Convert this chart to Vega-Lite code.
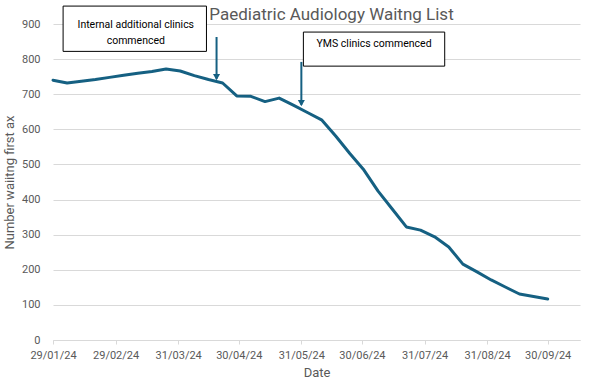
{
  "$schema": "https://vega.github.io/schema/vega-lite/v6.json",
  "width": 527,
  "height": 316,
  "autosize": {"type": "none"},
  "padding": {"left": 53, "top": 24, "right": 20, "bottom": 49},
  "background": "white",
  "title": {"text": "Paediatric Audiology Waitng List", "anchor": "middle", "dx": 15, "dy": 18, "offset": 0, "fontSize": 17, "font": "Roboto", "fontWeight": "normal", "color": "#595959"},
  "config": {"view": {"stroke": null}, "font": "Roboto"},
  "datasets": {
    "waiting": [
      {"date": "2024-01-29", "value": 740},
      {"date": "2024-02-05", "value": 732},
      {"date": "2024-02-12", "value": 737},
      {"date": "2024-02-19", "value": 742},
      {"date": "2024-02-26", "value": 748},
      {"date": "2024-03-04", "value": 754},
      {"date": "2024-03-11", "value": 760},
      {"date": "2024-03-18", "value": 765},
      {"date": "2024-03-25", "value": 772},
      {"date": "2024-04-01", "value": 766},
      {"date": "2024-04-08", "value": 753},
      {"date": "2024-04-15", "value": 742},
      {"date": "2024-04-22", "value": 732},
      {"date": "2024-04-29", "value": 695},
      {"date": "2024-05-06", "value": 694},
      {"date": "2024-05-13", "value": 679},
      {"date": "2024-05-20", "value": 689},
      {"date": "2024-05-27", "value": 669},
      {"date": "2024-06-03", "value": 648},
      {"date": "2024-06-10", "value": 627},
      {"date": "2024-06-17", "value": 581},
      {"date": "2024-06-24", "value": 531},
      {"date": "2024-07-01", "value": 484},
      {"date": "2024-07-08", "value": 424},
      {"date": "2024-07-15", "value": 373},
      {"date": "2024-07-22", "value": 322},
      {"date": "2024-07-29", "value": 313},
      {"date": "2024-08-05", "value": 294},
      {"date": "2024-08-12", "value": 265},
      {"date": "2024-08-19", "value": 216},
      {"date": "2024-08-26", "value": 194},
      {"date": "2024-09-02", "value": 171},
      {"date": "2024-09-09", "value": 151},
      {"date": "2024-09-16", "value": 131},
      {"date": "2024-09-23", "value": 124},
      {"date": "2024-09-30", "value": 117}
    ],
    "boxes": [
      {"date": "2024-02-03", "date2": "2024-04-14", "value": 822, "value2": 951},
      {"date": "2024-06-01", "date2": "2024-08-10", "value": 780, "value2": 877}
    ],
    "labels": [
      {"date": "2024-03-10", "value": 897, "text": ["Internal additional clinics", "commenced"]},
      {"date": "2024-07-06", "value": 843, "text": ["YMS clinics commenced"]}
    ],
    "arrows": [
      {"date": "2024-04-19", "value": 863, "value2": 744},
      {"date": "2024-05-31", "value": 792, "value2": 670}
    ],
    "tips": [
      {"date": "2024-04-19", "value": 740},
      {"date": "2024-05-31", "value": 666}
    ]
  },
  "encoding": {
    "x": {"field": "date", "type": "temporal", "title": "Date",
      "scale": {"type": "utc", "domain": [{"year": 2024, "month": 1, "date": 29, "utc": true}, {"year": 2024, "month": 10, "date": 16, "utc": true}], "nice": false},
      "axis": {"format": "%d/%m/%y", "grid": false,
        "values": [
          {"year": 2024, "month": 1, "date": 29, "utc": true},
          {"year": 2024, "month": 2, "date": 29, "utc": true},
          {"year": 2024, "month": 3, "date": 31, "utc": true},
          {"year": 2024, "month": 4, "date": 30, "utc": true},
          {"year": 2024, "month": 5, "date": 31, "utc": true},
          {"year": 2024, "month": 6, "date": 30, "utc": true},
          {"year": 2024, "month": 7, "date": 31, "utc": true},
          {"year": 2024, "month": 8, "date": 31, "utc": true},
          {"year": 2024, "month": 9, "date": 30, "utc": true}
        ],
        "domainColor": "#d9d9d9", "tickColor": "#d9d9d9", "tickSize": 4,
        "labelColor": "#595959", "labelFontSize": 11, "labelPadding": 5, "labelFont": "Roboto", "labelFlush": false, "labelOverlap": false,
        "titleColor": "#595959", "titleFontSize": 13, "titleFontWeight": "normal", "titleFont": "Roboto", "titlePadding": 6}},
    "y": {"field": "value", "type": "quantitative", "title": "Number waiitng first ax",
      "scale": {"domain": [0, 900], "nice": false},
      "axis": {"values": [0, 100, 200, 300, 400, 500, 600, 700, 800, 900], "domain": false, "ticks": false, "labelOverlap": false,
        "gridColor": "#d9d9d9", "gridWidth": 1,
        "labelColor": "#595959", "labelFontSize": 11, "labelPadding": 13, "labelFont": "Roboto",
        "titleColor": "#595959", "titleFontSize": 13, "titleFontWeight": "normal", "titleFont": "Roboto", "titlePadding": 5}}
  },
  "layer": [
    {
      "data": {"name": "waiting"},
      "mark": {"type": "line", "color": "#156082", "strokeWidth": 3, "strokeJoin": "round", "strokeCap": "round"}
    },
    {
      "data": {"name": "boxes"},
      "mark": {"type": "rect", "fill": "white", "stroke": "#000000", "strokeWidth": 1},
      "encoding": {
        "x2": {"field": "date2"},
        "y2": {"field": "value2"}
      }
    },
    {
      "data": {"name": "labels"},
      "mark": {"type": "text", "fontSize": 10.5, "font": "Roboto", "color": "#000000", "align": "center", "baseline": "middle", "lineHeight": 16},
      "encoding": {
        "text": {"field": "text"}
      }
    },
    {
      "data": {"name": "arrows"},
      "mark": {"type": "rule", "color": "#156082", "strokeWidth": 2},
      "encoding": {
        "y2": {"field": "value2"}
      }
    },
    {
      "data": {"name": "tips"},
      "mark": {"type": "point", "shape": "triangle-down", "filled": true, "color": "#156082", "size": 50, "opacity": 1, "yOffset": -3},
      "encoding": {}
    }
  ]
}
